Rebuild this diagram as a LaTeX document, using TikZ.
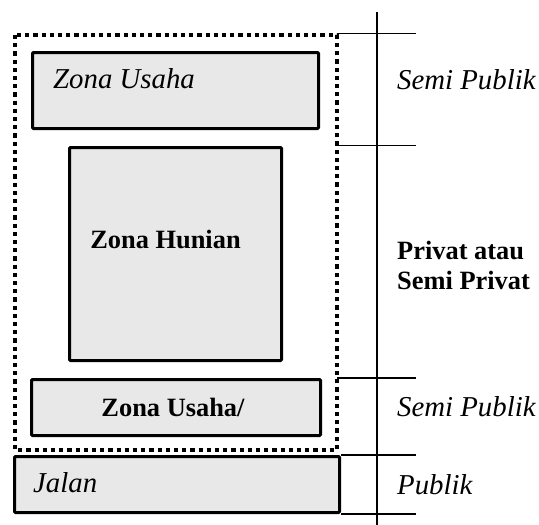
\documentclass[tikz,border=0pt]{standalone}
\usepackage{fontspec}
\setmainfont{Liberation Serif}
\definecolor{zonefill}{HTML}{E8E8E8}
\begin{document}
\begin{tikzpicture}[x=1pt,y=-1pt,
  zonebox/.style={draw=black,line width=3pt,fill=zonefill,rounded corners=1pt,inner sep=0pt,rectangle},
  thinline/.style={draw=black,line width=1.4pt},
  itext/.style={inner sep=0pt,anchor=base west,font=\fontsize{28.8}{32}\selectfont\itshape},
  btext/.style={inner sep=0pt,font=\fontsize{26.4}{30}\selectfont\bfseries}]
\useasboundingbox (0,0) rectangle (539,525);
% dotted outline
\draw[line width=4.4pt,dash pattern=on 4.2pt off 4pt] (15,35) rectangle (337,450);
% boxes
\node[zonebox,minimum width=286pt,minimum height=76pt] (usaha) at (175.5,90.5) {};
\node[zonebox,minimum width=212pt,minimum height=213pt] (hunian) at (175.5,254) {};
\node[zonebox,minimum width=289pt,minimum height=56pt] (usaha2) at (176,407.5) {};
\node[zonebox,minimum width=325pt,minimum height=56pt] (jalan) at (177,484.5) {};
% texts in boxes
\node[itext] (tusaha) at (53,88) {Zona Usaha};
\node[btext,anchor=base] (thunian) at (165.5,248) {Zona Hunian};
\node[btext,anchor=base] (tusaha2) at (173,416) {Zona Usaha/};
\node[itext] (tjalan) at (33,492) {Jalan};
% scale lines
\coordinate (vtop) at (377,12);
\coordinate (vbot) at (377,525);
\draw[thinline] (vtop) -- (vbot);
\coordinate (h1a) at (337,33.5); \coordinate (h1b) at (416,33.5);
\coordinate (h2a) at (337,145.5); \coordinate (h2b) at (416,145.5);
\coordinate (h3a) at (337,378); \coordinate (h3b) at (416,378);
\coordinate (h4a) at (341,455); \coordinate (h4b) at (416,455);
\coordinate (h5a) at (341,514); \coordinate (h5b) at (416,514);
\draw[thinline] (h1a) -- (h1b);
\draw[thinline] (h2a) -- (h2b);
\draw[thinline] (h3a) -- (h3b);
\draw[thinline] (h4a) -- (h4b);
\draw[thinline] (h5a) -- (h5b);
% labels
\node[itext] (l1) at (397,89) {Semi Publik};
\node[btext,anchor=base west] (l2a) at (397,259) {Privat atau};
\node[btext,anchor=base west] (l2b) at (397,289) {Semi Privat};
\node[itext] (l3) at (397,416) {Semi Publik};
\node[itext] (l4) at (397,494) {Publik};
\end{tikzpicture}
\end{document}
